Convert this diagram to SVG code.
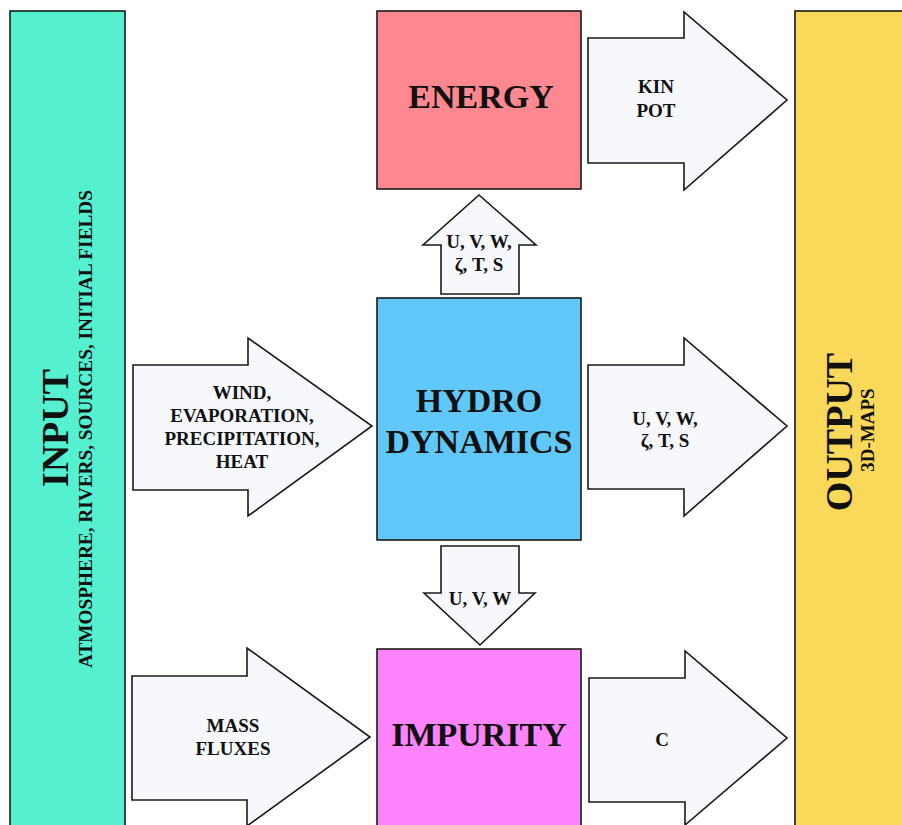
<svg xmlns="http://www.w3.org/2000/svg" width="902" height="825" viewBox="0 0 902 825">
<style>
.box{stroke:#1a1a1a;stroke-width:1.6}
.arr{fill:#f7f8fb;stroke:#1a1a1a;stroke-width:1.6;stroke-linejoin:miter}
text{font-family:"Liberation Serif","Times New Roman",serif;font-weight:bold;fill:#111;text-anchor:middle}
.big{font-size:34px}
.huge{font-size:38px}
.sm{font-size:19px}
</style>
<rect width="902" height="825" fill="#ffffff"/>
<g id="input">
<rect class="box" x="10" y="11" width="115" height="830" fill="#55f0d0"/>
<text class="huge" transform="translate(68,428) rotate(-90)">INPUT</text>
<text class="sm" transform="translate(92,429) rotate(-90)" textLength="478" lengthAdjust="spacingAndGlyphs">ATMOSPHERE, RIVERS, SOURCES, INITIAL FIELDS</text>
</g>
<g id="energy">
<rect class="box" x="377" y="11" width="204" height="178" fill="#fe8890"/>
<text class="big" x="481" y="108">ENERGY</text>
</g>
<g id="hydro">
<rect class="box" x="377" y="298" width="204" height="242" fill="#60c8f8"/>
<text class="big" x="479" y="412">HYDRO</text>
<text class="big" x="479" y="453">DYNAMICS</text>
</g>
<g id="impurity">
<rect class="box" x="377" y="649" width="204" height="190" fill="#fe84fe"/>
<text class="big" x="479" y="746">IMPURITY</text>
</g>
<g id="output">
<rect class="box" x="795" y="11" width="120" height="830" fill="#f9d85a"/>
<text class="huge" transform="translate(852,432) rotate(-90)">OUTPUT</text>
<text class="sm" transform="translate(874,430) rotate(-90)">3D-MAPS</text>
</g>
<g id="connectors">
<g id="arrow-kinpot">
<path class="arr" d="M588,38 H684 V12 L787,100 L684,190 V163 H588 Z"/>
<text class="sm" x="656" y="93">KIN</text>
<text class="sm" x="656" y="117">POT</text>
</g>
<g id="arrow-up">
<path class="arr" d="M441,294 V245 H423 L479,195 L536,245 H519 V294 Z"/>
<text class="sm" x="479" y="248">U, V, W,</text>
<text class="sm" x="479" y="271">ζ, T, S</text>
</g>
<g id="arrow-input-hydro">
<path class="arr" d="M133,365 H248 V338 L372,426 L248,516 V490 H133 Z"/>
<text class="sm" x="242" y="399">WIND,</text>
<text class="sm" x="242" y="422">EVAPORATION,</text>
<text class="sm" x="242" y="445">PRECIPITATION,</text>
<text class="sm" x="242" y="468">HEAT</text>
</g>
<g id="arrow-hydro-output">
<path class="arr" d="M588,365 H684 V338 L787,426 L684,516 V489 H588 Z"/>
<text class="sm" x="665" y="425">U, V, W,</text>
<text class="sm" x="665" y="447">ζ, T, S</text>
</g>
<g id="arrow-down">
<path class="arr" d="M441,546 V593 H424 L480,645 L535,593 H519 V546 Z"/>
<text class="sm" x="480" y="605">U, V, W</text>
</g>
<g id="arrow-mass">
<path class="arr" d="M132,676 H247 V648 L370,737 L247,826 V800 H132 Z"/>
<text class="sm" x="233" y="732">MASS</text>
<text class="sm" x="233" y="755">FLUXES</text>
</g>
<g id="arrow-c">
<path class="arr" d="M589,678 H685 V651 L787,738 L685,825 V802 H589 Z"/>
<text class="sm" x="662" y="746">C</text>
</g>
</g>
</svg>
